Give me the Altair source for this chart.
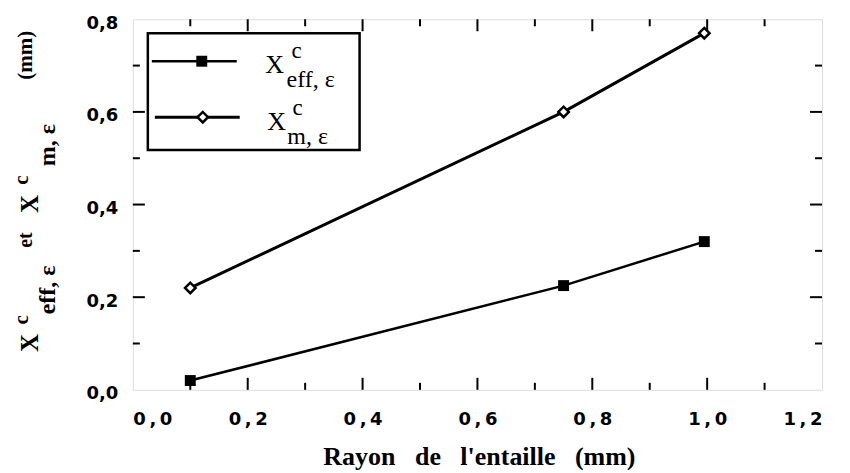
import altair as alt
import pandas as pd

# ---- data ----
radius = [0.1, 0.75, 0.995]
x_eff = [0.02, 0.225, 0.32]
x_m = [0.22, 0.60, 0.77]

x_ticks = [0.0, 0.2, 0.4, 0.6, 0.8, 1.0, 1.2]
y_ticks = [0.0, 0.2, 0.4, 0.6, 0.8]
x_major_in = [0.2, 0.4, 0.6, 0.8, 1.0]
x_minor_in = [0.1, 0.3, 0.5, 0.7, 0.9, 1.1]
y_major_in = [0.2, 0.4, 0.6]
y_minor_in = [0.1, 0.3, 0.5, 0.7]

W, H = 690, 371
SERIF = "Liberation Serif"
SANS = "DejaVu Sans"

xs = alt.Scale(domain=[0, 1.2], nice=False, zero=False)
ys = alt.Scale(domain=[0, 0.8], nice=False, zero=False)

df_eff = pd.DataFrame({"r": radius, "v": x_eff})
df_m = pd.DataFrame({"r": radius, "v": x_m})

base_x = alt.X("r:Q", scale=xs, axis=alt.Axis(values=x_ticks, ticks=False, domain=False, grid=False,
               labelExpr="replace(format(datum.value, '.1f'), '.', '\u2009,\u2009')",
               labelFont=SANS, labelFontSize=18, labelFontWeight="bold", labelColor="black",
               labelPadding=21, title=None))
base_y = alt.Y("v:Q", scale=ys, axis=alt.Axis(values=y_ticks, ticks=False, domain=False, grid=False,
               labelExpr="replace(format(datum.value, '.1f'), '.', ',')",
               labelFont=SANS, labelFontSize=18, labelFontWeight="bold", labelColor="black",
               labelPadding=15, labelBaseline="top", labelOffset=-5, title=None))

line_eff = alt.Chart(df_eff).mark_line(color="black", strokeWidth=2.5).encode(x=base_x, y=base_y)
line_m = alt.Chart(df_m).mark_line(color="black", strokeWidth=3).encode(x="r:Q", y="v:Q")
pt_eff = alt.Chart(df_eff).mark_point(shape="square", filled=True, color="black", size=120, opacity=1).encode(x="r:Q", y="v:Q")
pt_m = alt.Chart(df_m).mark_point(shape="diamond", filled=True, fill="white", stroke="black",
                                  strokeWidth=2.5, size=110, opacity=1).encode(x="r:Q", y="v:Q")

# ---- inward ticks on all four sides ----
def xticks(vals, L):
    d = pd.DataFrame({"t": vals})
    b = alt.Chart(d).mark_rule(color="black", strokeWidth=2).encode(
        x=alt.X("t:Q", scale=xs), y=alt.value(H), y2=alt.value(H - L))
    t = alt.Chart(d).mark_rule(color="black", strokeWidth=2).encode(
        x=alt.X("t:Q", scale=xs), y=alt.value(0), y2=alt.value(L))
    return [b, t]

def yticks(vals, L):
    d = pd.DataFrame({"t": vals})
    l = alt.Chart(d).mark_rule(color="black", strokeWidth=2).encode(
        y=alt.Y("t:Q", scale=ys), x=alt.value(0), x2=alt.value(L))
    r = alt.Chart(d).mark_rule(color="black", strokeWidth=2).encode(
        y=alt.Y("t:Q", scale=ys), x=alt.value(W), x2=alt.value(W - L))
    return [l, r]

tick_layers = xticks(x_major_in, 12) + xticks(x_minor_in, 7) + yticks(y_major_in, 12) + yticks(y_minor_in, 7)

one = pd.DataFrame({"a": [0]})

def txt(s, x, y, size, font=SERIF, weight="normal", angle=0, align="center"):
    return alt.Chart(one).mark_text(text=s, font=font, fontSize=size, fontWeight=weight,
                                    angle=angle, align=align, baseline="middle", color="black").encode(
        x=alt.value(x), y=alt.value(y))

# ---- legend box ----
legend_box = alt.Chart(one).mark_rect(fill="white", stroke="black", strokeWidth=2.5).encode(
    x=alt.value(15), x2=alt.value(227), y=alt.value(14), y2=alt.value(131))
leg_l1 = alt.Chart(one).mark_rule(color="black", strokeWidth=2.5).encode(
    x=alt.value(19), x2=alt.value(104), y=alt.value(42))
leg_l2 = alt.Chart(one).mark_rule(color="black", strokeWidth=3).encode(
    x=alt.value(22), x2=alt.value(107), y=alt.value(98))
leg_p1 = alt.Chart(one).mark_point(shape="square", filled=True, color="black", size=120, opacity=1).encode(
    x=alt.value(69), y=alt.value(42))
leg_p2 = alt.Chart(one).mark_point(shape="diamond", filled=True, fill="white", stroke="black",
                                   strokeWidth=2.5, size=110, opacity=1).encode(x=alt.value(70), y=alt.value(98))
legend_texts = [
    txt("X", 142, 46, 26), txt("c", 164, 32, 23), txt("eff, ε", 178, 61, 24),
    txt("X", 144, 103, 26), txt("c", 165, 89, 23), txt("m, ε", 175, 118, 24),
]

# ---- axis titles ----
ytitle = [
    txt("X", -103, 324, 25, weight="bold", angle=270),
    txt("c", -111, 301, 21, weight="bold", angle=270),
    txt("eff, ε", -85, 271, 24, weight="bold", angle=270),
    txt("et", -107, 221, 20, weight="bold", angle=270),
    txt("X", -103, 185, 25, weight="bold", angle=270),
    txt("c", -111, 161, 21, weight="bold", angle=270),
    txt("m, ε", -85, 126, 24, weight="bold", angle=270),
    txt("(mm)", -107, 36, 21, weight="bold", angle=270),
]
sp = "\u00a0\u00a0\u00a0"
xtitle = txt(f"Rayon{sp}de{sp}l'entaille{sp}(mm)", 347, 438, 26, weight="bold")

chart = alt.layer(
    line_eff, line_m, pt_eff, pt_m, *tick_layers,
    legend_box, leg_l1, leg_l2, leg_p1, leg_p2, *legend_texts,
    *ytitle, xtitle,
).properties(
    width=W, height=H,
    autosize=alt.AutoSizeParams(type="none"),
    padding={"left": 125, "top": 11, "right": 20, "bottom": 80},
).configure_view(stroke="black", strokeWidth=2.5).configure(background="white")

chart.save("out.html", embed_options={"renderer": "svg", "actions": False})
